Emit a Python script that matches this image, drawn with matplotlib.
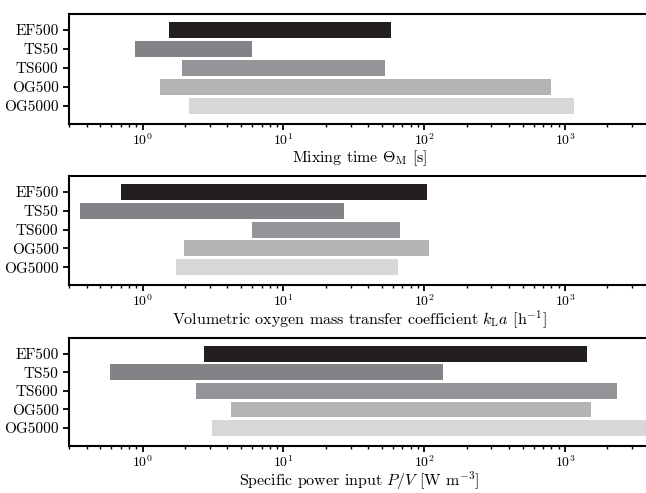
import numpy as np
import matplotlib
matplotlib.use("Agg")
import matplotlib.pyplot as plt

plt.rcParams['font.family'] = 'serif'
plt.rcParams['font.serif'] = ['cmr10']
plt.rcParams['mathtext.fontset'] = 'cm'
plt.rcParams['axes.formatter.use_mathtext'] = True

reactors = ["EF500", "TS50", "TS600", "OG500", "OG5000"]
colors = ["#231f20", "#828386", "#949598", "#b3b4b6", "#d6d7d8"]

# mixing time [s]
mix_lo = [1.53, 0.89, 1.92, 1.32, 2.12]
mix_hi = [58, 6.0, 53, 790, 1160]

# kLa [1/h]
kla_lo = [0.70, 0.357, 5.95, 1.96, 1.74]
kla_hi = [104, 26.8, 67, 109, 65]

# P/V [W/m3]
pv_lo = [2.71, 0.59, 2.38, 4.22, 3.09]
pv_hi = [1430, 136, 2340, 1530, 6000]

labels = [r"Mixing time $\Theta_\mathrm{M}$ [s]",
          r"Volumetric oxygen mass transfer coefficient $k_\mathrm{L}a$ [h$^{-1}$]",
          r"Specific power input $P/V$ [W m$^{-3}$]"]

fig = plt.figure(figsize=(6.46, 4.93), dpi=100)
boxes = [[0.1068, 0.7485, 0.899, 0.2231],
         [0.1068, 0.4219, 0.899, 0.2211],
         [0.1068, 0.0963, 0.899, 0.2180]]

y = np.arange(len(reactors))
for box, lo, hi, lab in zip(boxes, [mix_lo, kla_lo, pv_lo], [mix_hi, kla_hi, pv_hi], labels):
    ax = fig.add_axes(box)
    lo = np.array(lo)
    hi = np.array(hi)
    ax.barh(y, hi - lo, left=lo, height=0.85, color=colors)
    ax.set_xscale('log')
    ax.set_xlim(0.3, 4000)
    ax.set_ylim(4.95, -0.85)
    ax.set_yticks(y)
    ax.set_yticklabels(reactors)
    ax.set_xlabel(lab, fontsize=11.5, labelpad=0)
    ax.tick_params(axis='y', labelsize=11, width=1.3, length=4)
    ax.tick_params(axis='x', labelsize=10, width=1.3, length=4, pad=2)
    ax.tick_params(which='minor', width=1.0, length=2.5)
    for s in ax.spines.values():
        s.set_linewidth(1.5)

plt.savefig("out.png", dpi=100)
